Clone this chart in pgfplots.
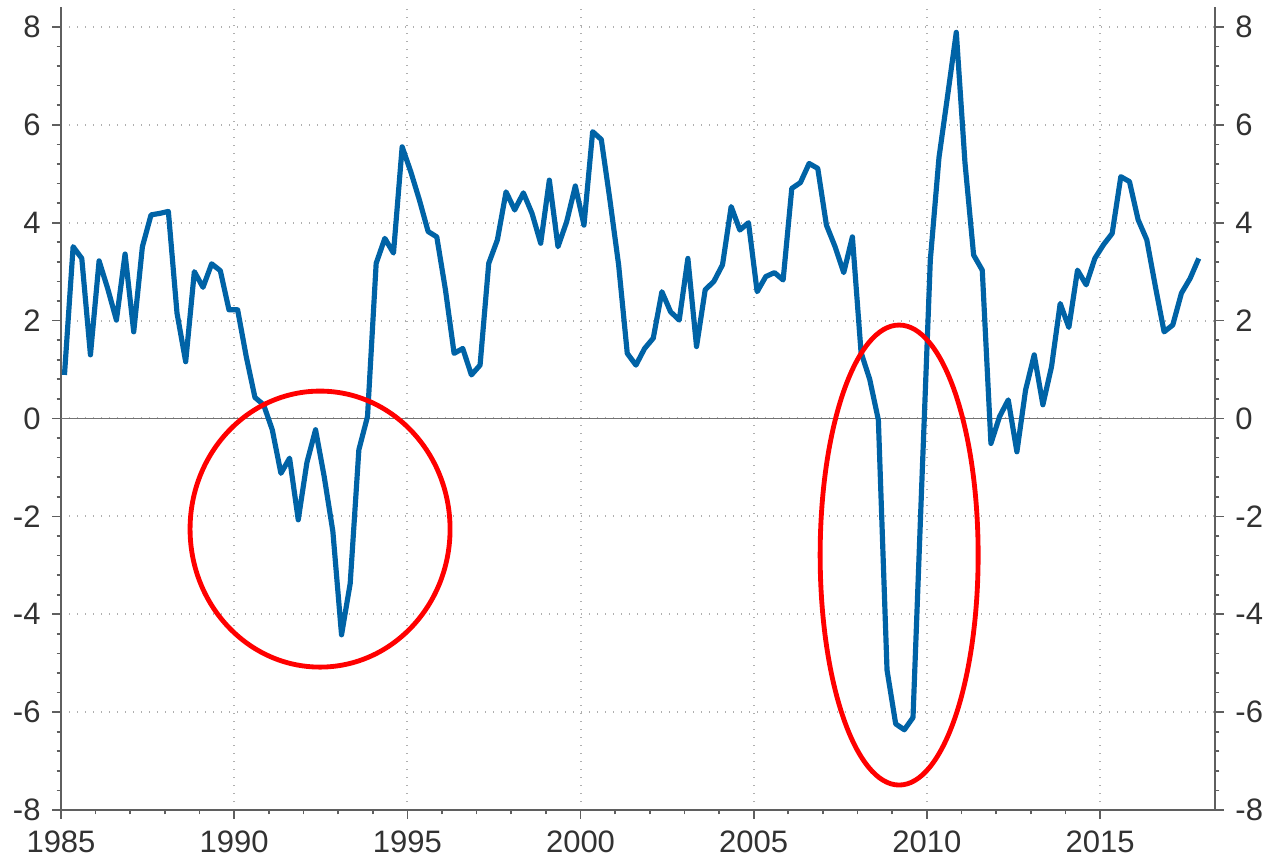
\documentclass[border=0pt]{standalone}
\usepackage{pgfplots}
\pgfplotsset{compat=1.18}
\usepackage{pgfplotstable}
\usepackage{fontspec}
\setmainfont{Liberation Sans}
\definecolor{lineblue}{RGB}{0,99,166}
\definecolor{axgray}{RGB}{95,95,95}
\definecolor{txtgray}{RGB}{50,50,50}
\definecolor{gridgray}{RGB}{175,175,175}
\definecolor{zerogray}{RGB}{115,115,115}
\pgfplotstableread{
x y
1985.10 0.89
1985.35 3.51
1985.60 3.27
1985.85 1.30
1986.10 3.22
1986.35 2.65
1986.60 2.01
1986.85 3.36
1987.10 1.77
1987.35 3.51
1987.60 4.16
1987.85 4.19
1988.10 4.23
1988.35 2.15
1988.60 1.16
1988.85 3.00
1989.10 2.68
1989.35 3.16
1989.60 3.02
1989.85 2.22
1990.10 2.22
1990.35 1.26
1990.60 0.43
1990.85 0.28
1991.10 -0.23
1991.35 -1.12
1991.60 -0.81
1991.85 -2.07
1992.10 -0.90
1992.35 -0.23
1992.60 -1.19
1992.85 -2.31
1993.10 -4.42
1993.35 -3.37
1993.60 -0.64
1993.85 0.04
1994.10 3.17
1994.35 3.68
1994.60 3.38
1994.85 5.55
1995.10 5.04
1995.35 4.46
1995.60 3.82
1995.85 3.71
1996.10 2.63
1996.35 1.33
1996.60 1.43
1996.85 0.89
1997.10 1.09
1997.35 3.17
1997.60 3.65
1997.85 4.63
1998.10 4.26
1998.35 4.61
1998.60 4.19
1998.85 3.58
1999.10 4.87
1999.35 3.51
1999.60 4.02
1999.85 4.75
2000.10 3.95
2000.35 5.86
2000.60 5.70
2000.85 4.46
2001.10 3.14
2001.35 1.33
2001.60 1.09
2001.85 1.43
2002.10 1.64
2002.35 2.59
2002.60 2.18
2002.85 2.01
2003.10 3.27
2003.35 1.47
2003.60 2.63
2003.85 2.80
2004.10 3.14
2004.35 4.33
2004.60 3.85
2004.85 4.00
2005.10 2.59
2005.35 2.90
2005.60 2.98
2005.85 2.83
2006.10 4.70
2006.35 4.82
2006.60 5.21
2006.85 5.11
2007.10 3.95
2007.35 3.51
2007.60 2.98
2007.85 3.71
2008.10 1.35
2008.35 0.80
2008.60 -0.03
2008.85 -5.14
2009.10 -6.24
2009.35 -6.36
2009.60 -6.11
2009.85 -1.40
2010.10 3.24
2010.35 5.33
2010.60 6.60
2010.85 7.89
2011.10 5.23
2011.35 3.34
2011.60 3.03
2011.85 -0.51
2012.10 0.04
2012.35 0.38
2012.60 -0.68
2012.85 0.58
2013.10 1.30
2013.35 0.28
2013.60 1.06
2013.85 2.35
2014.10 1.86
2014.35 3.03
2014.60 2.73
2014.85 3.27
2015.10 3.55
2015.35 3.78
2015.60 4.94
2015.85 4.84
2016.10 4.06
2016.35 3.65
2016.60 2.69
2016.85 1.77
2017.10 1.91
2017.35 2.56
2017.60 2.86
2017.85 3.27
}\datatable
\pgfplotsset{common/.style={
  scale only axis, width=346.2pt, height=240.8pt,
  xmin=1985, xmax=2018.32, ymin=-8, ymax=8.4,
  ytick={-8,-6,...,8}, minor y tick num=4,
  xtick={1985,1990,...,2015}, minor x tick num=4,
  tick align=outside, major tick length=2.6pt, minor tick length=1.3pt,
  every tick/.style={axgray, line width=0.5pt},
  axis line style={axgray, line width=0.6pt},
  tick label style={font=\fontsize{9.3}{11}\selectfont, text=txtgray},
  /pgf/number format/assume math mode=true,
  /pgf/number format/1000 sep={},
}}
\begin{document}
\begin{tikzpicture}
\begin{axis}[common,
  axis x line*=bottom, axis y line*=left,
  xmajorgrids, ymajorgrids,
  major grid style={gridgray, dotted, line width=0.6pt},
  clip=false]
\addplot[draw=none, forget plot] coordinates {(1990,0)};
\end{axis}
\begin{axis}[common,
  axis x line=none, axis y line*=right, clip=false]
\draw[zerogray, line width=0.55pt] (axis cs:1985,0) -- (axis cs:2018.32,0);
\addplot[lineblue, line width=1.55pt, line join=round, no markers] table[x=x,y=y] {\datatable};
\draw[red, line width=1.45pt] (axis cs:1992.48,-2.26) ellipse [x radius=39pt, y radius=41.4pt];
\draw[red, line width=1.45pt] (axis cs:2009.2,-2.79) ellipse [x radius=23.7pt, y radius=69pt];
\end{axis}
\pgfresetboundingbox
\useasboundingbox ([shift={(-18.3pt,-15pt)}]current axis.south west) rectangle ([shift={(15.6pt,2.2pt)}]current axis.north east);
\end{tikzpicture}
\end{document}
